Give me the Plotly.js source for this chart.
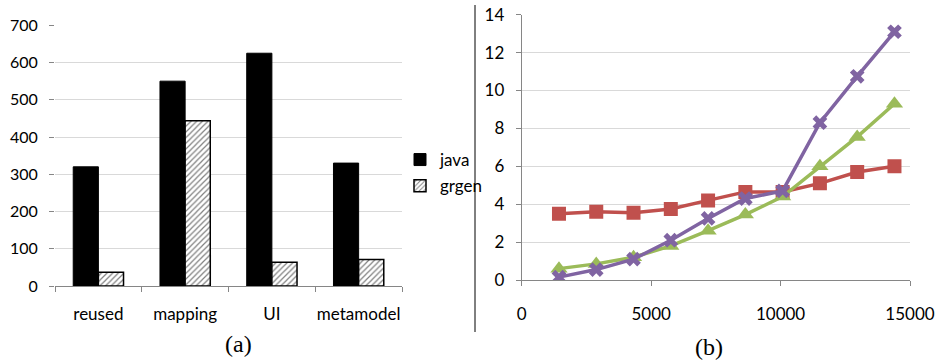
<!DOCTYPE html>
<html>
<head>
<meta charset="utf-8">
<script src="https://cdn.plot.ly/plotly-3.0.1.min.js"></script>
<style>html,body{margin:0;padding:0;background:#fff;}#chart{width:938px;height:360px;}</style>
</head>
<body>
<div id="chart"></div>
<script>
// Panel (a): bar chart
const categories = ["reused", "mapping", "UI", "metamodel"];
const javaValues = [320, 550, 625, 330];
const grgenValues = [37, 444, 64, 71];
const barTicks = [0, 100, 200, 300, 400, 500, 600, 700];

// Panel (b): line chart
const sizes = [1440, 2880, 4320, 5760, 7200, 8640, 10080, 11520, 12960, 14400];
const redSeries = [3.5, 3.6, 3.55, 3.75, 4.2, 4.65, 4.65, 5.1, 5.7, 6.0];
const greenSeries = [0.6, 0.85, 1.2, 1.8, 2.6, 3.45, 4.4, 6.0, 7.55, 9.3];
const purpleSeries = [0.15, 0.55, 1.1, 2.1, 3.25, 4.3, 4.7, 8.3, 10.75, 13.1];
const lineXTicks = [0, 5000, 10000, 15000];
const lineYTicks = [0, 2, 4, 6, 8, 10, 12, 14];

const W = 938, H = 360;
const px = v => v / W;
const py = v => (H - v) / H;
const FAM = "Lato, 'Open Sans', sans-serif";
const tickFont = {family: FAM, size: 16, color: "#000"};
const catFont = {family: FAM, size: 17, color: "#000"};
const tickFont2 = {family: FAM, size: 17, color: "#000"};
const axisGray = "#868686";
const gridGray = "#d9d9d9";

const traces = [
  {type: "bar", name: "java", x: categories, y: javaValues, xaxis: "x", yaxis: "y",
   marker: {color: "#000", line: {color: "#000", width: 1}}, legendgroup: "a", hoverinfo: "skip"},
  {type: "bar", name: "grgen", x: categories, y: grgenValues, xaxis: "x", yaxis: "y",
   marker: {color: "#fff", line: {color: "#000", width: 1.5},
            pattern: {shape: "/", fgcolor: "#808080", bgcolor: "#fff", size: 4, solidity: 0.3}},
   legendgroup: "b", hoverinfo: "skip"},
  {type: "scatter", mode: "lines+markers", x: sizes, y: redSeries, xaxis: "x2", yaxis: "y2",
   line: {color: "#C0504D", width: 3.5}, marker: {symbol: "square", size: 14, color: "#C0504D"},
   showlegend: false},
  {type: "scatter", mode: "lines+markers", x: sizes, y: greenSeries, xaxis: "x2", yaxis: "y2",
   line: {color: "#9BBB59", width: 3.5}, marker: {symbol: "triangle-up", size: 15, color: "#9BBB59"},
   showlegend: false},
  {type: "scatter", mode: "lines+markers", x: sizes, y: purpleSeries, xaxis: "x2", yaxis: "y2",
   line: {color: "#8064A2", width: 3.5}, marker: {symbol: "x", size: 13, color: "#8064A2"},
   showlegend: false}
];

const layout = {
  width: W, height: H,
  margin: {l: 0, r: 0, t: 0, b: 0},
  paper_bgcolor: "#fff", plot_bgcolor: "rgba(0,0,0,0)",
  showlegend: true,
  barmode: "group", bargap: 0.42, bargroupgap: 0,
  font: tickFont,
  legend: {x: px(400), y: py(142), xanchor: "left", yanchor: "top",
           font: {family: FAM, size: 17, color: "#000"},
           tracegroupgap: 1, bgcolor: "rgba(0,0,0,0)", itemwidth: 30},
  xaxis: {domain: [px(55), px(402)], anchor: "y", type: "category",
          showline: true, linecolor: axisGray, linewidth: 1, tickangle: 0,
          ticks: "outside", tickson: "boundaries", ticklen: 5, tickcolor: axisGray,
          showgrid: false, tickfont: catFont, ticklabelstandoff: 13, fixedrange: true},
  yaxis: {domain: [py(286), py(25.3)], anchor: "x", range: [0, 700],
          tickvals: barTicks, showline: false, ticks: "outside", ticklen: 5, tickcolor: axisGray,
          showgrid: true, gridcolor: gridGray, gridwidth: 1, zeroline: false,
          tickfont: tickFont, ticklabelstandoff: 8, fixedrange: true},
  xaxis2: {domain: [px(521.7), px(910)], anchor: "y2", range: [0, 15000],
           tickvals: lineXTicks, ticktext: lineXTicks.map(String), tickangle: 0,
           showline: true, linecolor: axisGray, ticks: "outside", ticklen: 5, tickcolor: axisGray,
           showgrid: false, zeroline: false,
           tickfont: tickFont2, ticklabelstandoff: 14, fixedrange: true},
  yaxis2: {domain: [py(280), py(14.7)], anchor: "x2", range: [0, 14],
           tickvals: lineYTicks, showline: true, linecolor: axisGray, ticks: "outside", ticklen: 5,
           tickcolor: axisGray, showgrid: true, gridcolor: gridGray, zeroline: false,
           tickfont: tickFont2, ticklabelstandoff: 8, fixedrange: true},
  shapes: [
    {type: "line", xref: "paper", yref: "paper", x0: px(475), x1: px(475), y0: py(332), y1: py(5),
     line: {color: "#000", width: 1}}
  ],
  annotations: [
    {text: "(a)", xref: "paper", yref: "paper", x: px(238), y: py(344), xanchor: "center", yanchor: "middle",
     showarrow: false, font: {family: "'Liberation Serif', serif", size: 24, color: "#000"}},
    {text: "(b)", xref: "paper", yref: "paper", x: px(709), y: py(347), xanchor: "center", yanchor: "middle",
     showarrow: false, font: {family: "'Liberation Serif', serif", size: 24, color: "#000"}}
  ]
};

Plotly.newPlot("chart", traces, layout, {displayModeBar: false, staticPlot: true});
</script>
</body>
</html>
